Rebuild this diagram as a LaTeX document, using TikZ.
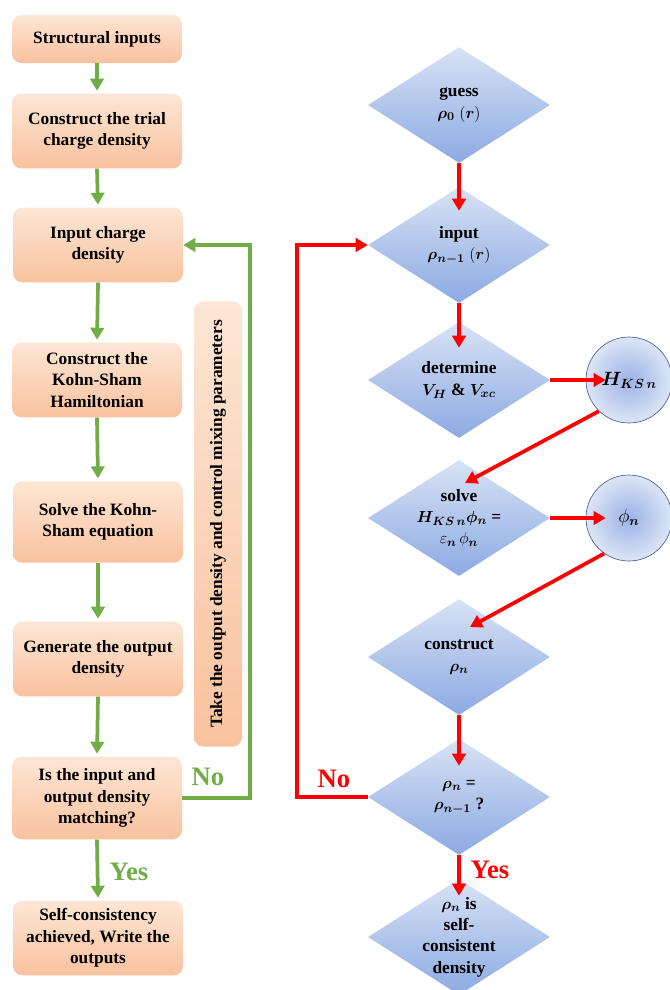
\documentclass[tikz,border=0pt]{standalone}
\usepackage{fontspec}
\setmainfont{Liberation Serif}
\usepackage{amsmath,bm}
\usetikzlibrary{shapes.geometric,arrows.meta,calc}

\definecolor{grn}{HTML}{70AD47}
\definecolor{peachtop}{HTML}{FDE6D5}
\definecolor{peachbot}{HTML}{F9C29E}
\definecolor{bluetop}{HTML}{D8E2F4}
\definecolor{bluebot}{HTML}{8CAAE3}
\definecolor{blobin}{HTML}{9BB2E6}
\definecolor{blobout}{HTML}{DDE5F6}
\definecolor{ringblue}{HTML}{4A5F9A}

\begin{document}
\begin{tikzpicture}[x=0.75pt,y=-0.75pt,
  box/.style={rounded corners=7pt,top color=peachtop,bottom color=peachbot,
    minimum width=127.5pt,minimum height=56pt,align=center,
    font=\fontsize{13}{16}\selectfont\bfseries},
  dia/.style={diamond,top color=bluetop,bottom color=bluebot,
    minimum width=136.5pt,minimum height=87pt,inner sep=0pt},
  dtext/.style={align=center,font=\fontsize{13}{16}\selectfont\bfseries},
  blob/.style={circle,draw=ringblue,line width=0.5pt,inner color=blobin,
    outer color=blobout,minimum size=64.5pt,font=\fontsize{14}{16}\selectfont},
  garr/.style={grn,line width=2.8pt,-{Triangle[length=9pt,width=10pt]}},
  rarr/.style={red,line width=2.8pt,-{Triangle[length=9pt,width=10pt]}},
  lbl/.style={font=\fontsize{20}{22}\selectfont\bfseries}]
  \useasboundingbox (0,0) rectangle (670,990);

  % left flow chart
  \node[box,minimum height=36pt] (sin) at (97,39) {Structural inputs};
  \node[box] (trial) at (97,131) {Construct the trial\\charge density};
  \node[box] (inp) at (98,245) {Input charge\\density};
  \node[box] (ham) at (97,380) {Construct the\\Kohn-Sham\\Hamiltonian};
  \node[box,minimum height=61pt] (solveks) at (98,522) {Solve the Kohn-\\Sham equation};
  \node[box] (outd) at (98,659) {Generate the output\\density};
  \node[box,minimum height=62pt] (match) at (97,798) {Is the input and\\output density\\matching?};
  \node[box] (done) at (98,938) {Self-consistency\\achieved, Write the\\outputs};
  \node[box,rotate=90,minimum width=334pt,minimum height=36pt] (mix) at (218,524)
    {Take the output density and control mixing parameters};

  \foreach \a/\b in {sin/trial,trial/inp,inp/ham,ham/solveks,solveks/outd,outd/match,match/done}
    \draw[garr,shorten >=2pt] (\a.south) -- (\b.north);
  \coordinate (gturn) at (250,798);
  \draw[garr] (match.east) -- (gturn) |- (inp.east);
  \node[lbl,grn] (gno) at (208,777) {No};
  \node[lbl,grn] (gyes) at (129,872) {Yes};

  % right flow chart
  \node[dia,label={[dtext]center:{guess\\$\boldsymbol{\rho_0}\;(\boldsymbol{r})$}}] (guess) at (459,105) {};
  \node[dia,label={[dtext]center:{input\\$\boldsymbol{\rho_{n-1}}\;(\boldsymbol{r})$}}] (rin) at (459,245) {};
  \node[dia,label={[dtext]center:{determine\\$\boldsymbol{V_H}$ \& $\boldsymbol{V_{xc}}$}}] (det) at (459,380) {};
  \node[dia,label={[dtext]center:{solve\\$\boldsymbol{H_{KS\,n}\phi_n}$ =\\$\varepsilon_{\boldsymbol{n}}\,\phi_{\boldsymbol{n}}$}}] (slv) at (459,518) {};
  \node[dia,label={[dtext]center:{construct\\$\boldsymbol{\rho_n}$}}] (cons) at (459,657) {};
  \node[dia,label={[dtext]center:{$\boldsymbol{\rho_n}$ =\\$\boldsymbol{\rho_{n-1}}$ ?}}] (chk) at (459,797) {};
  \node[dia,label={[dtext]center:{$\boldsymbol{\rho_n}$ is\\self-\\consistent\\density}}] (sc) at (459,937) {};
  \node[blob] (hks) at (629,380) {$\boldsymbol{H_{KS\,n}}$};
  \node[blob] (phi) at (629,518) {$\phi_{\boldsymbol{n}}$};

  \draw[rarr] (guess.south) -- ($(rin.north)+(0,24)$);
  \draw[rarr] (rin.south) -- ($(det.north)+(0,26)$);
  \draw[rarr] (det.east) -- ($(hks.west)+(20,0)$);
  \draw[rarr] (hks.226) -- ($(slv.center)+(6,-35)$);
  \draw[rarr] (slv.east) -- ($(phi.west)+(20,0)$);
  \draw[rarr] (phi.235) -- ($(cons.center)+(11,-30)$);
  \draw[rarr] (cons.south) -- ($(chk.north)+(0,27)$);
  \draw[rarr] (chk.south) -- ($(sc.north)+(0,17)$);
  \coordinate (rturn) at (297,797);
  \draw[rarr] (chk.west) -- (rturn) |- (rin.west);
  \node[lbl,red] (rno) at (334,779) {No};
  \node[lbl,red] (ryes) at (490,870) {Yes};
\end{tikzpicture}
\end{document}
